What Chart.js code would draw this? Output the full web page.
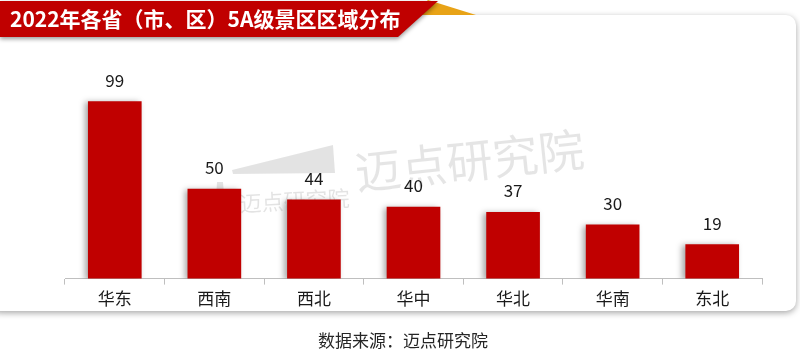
<!DOCTYPE html>
<html><head><meta charset="utf-8">
<script src="https://cdn.jsdelivr.net/npm/chart.js@4.4.0/dist/chart.umd.min.js"></script>
<style>html,body{margin:0;padding:0;background:#fff}#wrap{width:800px;height:357px;position:relative}</style>
</head><body><div id="wrap"><canvas id="c" width="800" height="357"></canvas></div>
<script>
const titleText = "2022年各省（市、区）5A级景区区域分布";
const sourceText = "数据来源：迈点研究院";
const watermarkText = "迈点研究院";
const categories = ["华东","西南","西北","华中","华北","华南","东北"];
const counts = [99, 50, 44, 40, 37, 30, 19];

const FONT = '"Noto Sans CJK SC", "Noto Sans", sans-serif';

const decor = {
  id: 'decor',
  beforeDraw(chart) {
    const ctx = chart.ctx;
    ctx.save();
    ctx.fillStyle = '#fff';
    ctx.fillRect(0,0,800,357);
    // card
    ctx.shadowColor = 'rgba(0,0,0,0.35)';
    ctx.shadowBlur = 6;
    ctx.shadowOffsetY = 2;
    ctx.fillStyle = '#fff';
    ctx.beginPath();
    ctx.roundRect(-10, 15, 806, 296, 10);
    ctx.fill();
    ctx.restore();

    // watermark
    ctx.save();
    ctx.fillStyle = 'rgba(0,0,0,0.10)';
    ctx.translate(357, 190);
    ctx.rotate(-6 * Math.PI / 180);
    ctx.font = '46px ' + FONT;
    ctx.textBaseline = 'alphabetic';
    ctx.fillText(watermarkText, 0, 0);
    ctx.restore();
    // small logo
    ctx.save();
    ctx.fillStyle = 'rgba(0,0,0,0.11)';
    ctx.beginPath();
    ctx.moveTo(232, 170);
    ctx.lineTo(333, 145);
    ctx.lineTo(335, 173);
    ctx.lineTo(233, 174);
    ctx.closePath();
    ctx.fill();
    ctx.beginPath();
    ctx.moveTo(214, 230);
    ctx.lineTo(217, 182);
    ctx.lineTo(223, 182);
    ctx.lineTo(227, 230);
    ctx.closePath();
    ctx.fill();
    ctx.translate(240, 212);
    ctx.rotate(-3 * Math.PI / 180);
    ctx.font = '22px ' + FONT;
    ctx.fillText(watermarkText, 0, 0);
    ctx.restore();

    // banner
    ctx.save();
    ctx.fillStyle = '#E8A317';
    ctx.beginPath();
    ctx.moveTo(428, 0);
    ctx.lineTo(476, 15);
    ctx.lineTo(412, 15);
    ctx.closePath();
    ctx.fill();
    ctx.shadowColor = 'rgba(0,0,0,0.4)';
    ctx.shadowBlur = 4;
    ctx.shadowOffsetY = 2;
    ctx.fillStyle = '#C00000';
    ctx.beginPath();
    ctx.moveTo(0, 1);
    ctx.lineTo(438, 1);
    ctx.lineTo(398, 37);
    ctx.lineTo(0, 37);
    ctx.closePath();
    ctx.fill();
    ctx.restore();
    ctx.save();
    ctx.fillStyle = '#fff';
    ctx.font = 'bold 21px ' + FONT;
    ctx.textBaseline = 'middle';
    ctx.fillText(titleText, 10, 19);
    // source
    ctx.fillStyle = '#262626';
    ctx.font = '17px ' + FONT;
    ctx.textAlign = 'center';
    ctx.fillText(sourceText, 403, 341);
    ctx.restore();
  },
  beforeDatasetsDraw(chart) {
    const ctx = chart.ctx;
    ctx.save();
    ctx.shadowColor = 'rgba(0,0,0,0.35)';
    ctx.shadowBlur = 6;
    ctx.shadowOffsetX = -3;
    ctx.shadowOffsetY = 1;
  },
  afterDatasetsDraw(chart) {
    chart.ctx.restore();
    const ctx = chart.ctx;
    const meta = chart.getDatasetMeta(0);
    ctx.save();
    ctx.fillStyle = '#1a1a1a';
    ctx.font = '17px ' + FONT;
    ctx.textAlign = 'center';
    ctx.textBaseline = 'alphabetic';
    meta.data.forEach((bar, i) => {
      ctx.fillText(String(counts[i]), bar.x, bar.y - 15);
    });
    ctx.restore();
  }
};

new Chart(document.getElementById('c'), {
  type: 'bar',
  data: {
    labels: categories,
    datasets: [{ data: counts, backgroundColor: '#C00000', barThickness: 53 }]
  },
  options: {
    responsive: false,
    animation: false,
    events: [],
    layout: { padding: { left: 65, right: 38, top: 64, bottom: 44 } },
    plugins: { legend: { display: false }, tooltip: { enabled: false }, title: { display: false } },
    scales: {
      y: { display: false, min: 0, max: 120 },
      x: {
        offset: true,
        border: { display: true, color: '#bfbfbf', width: 1 },
        grid: { display: true, drawOnChartArea: false, drawTicks: true, tickLength: 6, color: '#bfbfbf', offset: true },
        ticks: { color: '#1a1a1a', font: { size: 17, family: FONT }, padding: 4 }
      }
    }
  },
  plugins: [decor]
});
</script>
</body></html>
